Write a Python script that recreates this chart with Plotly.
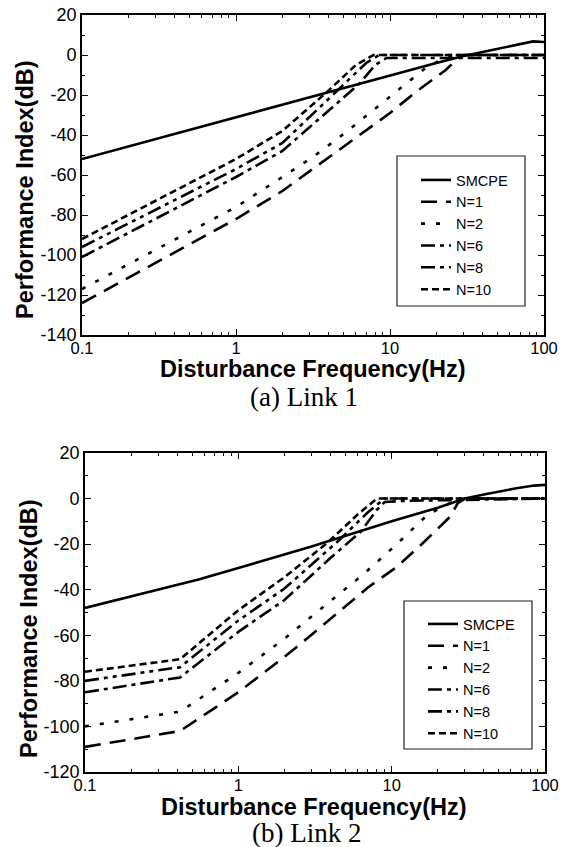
import plotly.graph_objects as go

# ---------------- Data: (a) Link 1 ----------------
a_smcpe_f = [0.1, 0.3, 1, 3, 10, 20, 30, 50, 70, 85, 100]
a_smcpe_v = [-52, -42, -31, -21, -10, -4, -0.5, 3, 5.5, 6.8, 6.5]
a_n1_f = [0.1, 1, 2, 5, 10, 15, 23, 26.5, 30, 100]
a_n1_v = [-124, -82, -68, -46, -29, -18, -7.5, -3, 0, 0]
a_n2_f = [0.1, 1, 2, 3.16, 5.1, 13.5, 17, 22, 28, 100]
a_n2_v = [-117, -76, -61, -51, -39, -13, -6.5, -2, 0, 0]
a_n6_f = [0.1, 1, 2, 4, 6.4, 8, 9.5, 100]
a_n6_v = [-101, -61, -48, -28, -14, -5, -1.5, -1.5]
a_n8_f = [0.1, 1, 2, 4.7, 7, 8.5, 100]
a_n8_v = [-96, -57, -44, -17, -4, 0, 0]
a_n10_f = [0.1, 1, 2, 3.87, 6, 7.8, 100]
a_n10_v = [-92, -52, -38, -18.7, -5, 0, 0]

# ---------------- Data: (b) Link 2 ----------------
b_smcpe_f = [0.1, 0.3, 0.55, 1, 3, 10, 20, 30, 40, 65, 85, 100]
b_smcpe_v = [-48, -40, -35.5, -30.5, -21, -10, -4, 0, 1.8, 4.5, 5.7, 6]
b_n1_f = [0.1, 0.417, 1, 2, 3.1, 4.6, 7, 10.8, 16, 24, 27, 30, 100]
b_n1_v = [-109, -102, -85, -69.5, -59, -49.5, -39, -30, -19.5, -8, -2, 0, 0]
b_n2_f = [0.1, 0.417, 1, 2, 3.1, 6.6, 10.8, 17.2, 24, 30, 100]
b_n2_v = [-100, -93.5, -76.5, -61.5, -51, -33, -20, -7, -2, 0, 0]
b_n6_f = [0.1, 0.417, 1, 2, 4, 6.3, 8, 9, 12, 30, 100]
b_n6_v = [-85, -78.5, -58.5, -44.5, -26, -14.5, -5, -1.5, -1, -0.5, 0]
b_n8_f = [0.1, 0.417, 1, 2, 4.5, 7, 9, 100]
b_n8_v = [-80, -74, -53.5, -39.5, -18.5, -6, 0, 0]
b_n10_f = [0.1, 0.417, 1, 2, 3.8, 6, 8, 100]
b_n10_v = [-76, -70.5, -49, -34.5, -19.5, -7, 0, 0]

names = ["SMCPE", "N=1", "N=2", "N=6", "N=8", "N=10"]
x_tickvals = [0.1, 1, 10, 100]
x_ticktext = ["0.1", "1", "10", "100"]
ya_tickvals = [-140, -120, -100, -80, -60, -40, -20, 0, 20]
ya_ticktext = ["-140", "-120", "-100", "-80", "-60", "-40", "-20", "0", "20"]
yb_tickvals = [-120, -100, -80, -60, -40, -20, 0, 20]
yb_ticktext = ["-120", "-100", "-80", "-60", "-40", "-20", "0", "20"]

dashes = ["solid", "16px,9px", "4px,11px", "14px,5px,4px,5px",
          "14px,5px,4px,5px,4px,5px", "7px,4px"]

W, H = 566, 847
SANS = "Liberation Sans, Arial, sans-serif"
SERIF = "Liberation Serif, Times New Roman, serif"

fig = go.Figure()

series_a = [(a_smcpe_f, a_smcpe_v), (a_n1_f, a_n1_v), (a_n2_f, a_n2_v),
            (a_n6_f, a_n6_v), (a_n8_f, a_n8_v), (a_n10_f, a_n10_v)]
series_b = [(b_smcpe_f, b_smcpe_v), (b_n1_f, b_n1_v), (b_n2_f, b_n2_v),
            (b_n6_f, b_n6_v), (b_n8_f, b_n8_v), (b_n10_f, b_n10_v)]

for (fx, fy), nm, ds in zip(series_a, names, dashes):
    fig.add_trace(go.Scatter(x=fx, y=fy, mode="lines", name=nm,
                             line=dict(color="black", width=2.6, dash=ds),
                             xaxis="x", yaxis="y", legend="legend"))
for (fx, fy), nm, ds in zip(series_b, names, dashes):
    fig.add_trace(go.Scatter(x=fx, y=fy, mode="lines", name=nm,
                             line=dict(color="black", width=2.6, dash=ds),
                             xaxis="x2", yaxis="y2", legend="legend2"))

minor_x = [m * 10 ** e for e in (-1, 0, 1) for m in range(2, 10)]


def xaxis_cfg(domain, anchor):
    return dict(domain=domain, anchor=anchor, type="log", range=[-1, 2],
                automargin=False, ticklabelstandoff=-3,
                tickmode="array", tickvals=x_tickvals, ticktext=x_ticktext,
                ticks="inside", ticklen=6, tickwidth=1.3, tickcolor="black",
                showline=True, linewidth=1.6, linecolor="black", mirror="allticks",
                showgrid=False, zeroline=False,
                tickfont=dict(family=SANS, size=16.5, color="black"),
                minor=dict(tickmode="array", tickvals=minor_x, ticks="inside",
                           ticklen=3.5, tickwidth=1, tickcolor="black", showgrid=False))


def yaxis_cfg(domain, anchor, rng, tv, tt):
    return dict(domain=domain, anchor=anchor, range=rng,
                automargin=False,
                tickmode="array", tickvals=tv, ticktext=tt,
                ticks="inside", ticklen=6, tickwidth=1.3, tickcolor="black",
                showline=True, linewidth=1.6, linecolor="black", mirror="allticks",
                showgrid=False, zeroline=False,
                tickfont=dict(family=SANS, size=18, color="black"),
                minor=dict(tickmode="linear", tick0=0, dtick=10, ticks="inside",
                           ticklen=3.5, tickwidth=1, tickcolor="black", showgrid=False))


def px(x):
    return x / W


def py(y):
    return 1 - y / H


fig.update_layout(
    width=W, height=H,
    margin=dict(l=0, r=0, t=0, b=0, autoexpand=False),
    paper_bgcolor="white", plot_bgcolor="white",
    xaxis=xaxis_cfg([px(82), px(544)], "y"),
    yaxis=yaxis_cfg([py(335), py(15)], "x", [-140, 20], ya_tickvals, ya_ticktext),
    xaxis2=xaxis_cfg([px(85), px(545)], "y2"),
    yaxis2=yaxis_cfg([py(772), py(453)], "x2", [-120, 20], yb_tickvals, yb_ticktext),
    legend=dict(x=px(416), y=py(164), xanchor="left", yanchor="top",
                bgcolor="rgba(0,0,0,0)", borderwidth=0, tracegroupgap=0,
                font=dict(family=SANS, size=14.5, color="black")),
    legend2=dict(x=px(423), y=py(608), xanchor="left", yanchor="top",
                 bgcolor="rgba(0,0,0,0)", borderwidth=0, tracegroupgap=0,
                 font=dict(family=SANS, size=14.5, color="black")),
    shapes=[
        dict(type="rect", xref="paper", yref="paper",
             x0=px(397), x1=px(525), y0=py(306), y1=py(156),
             line=dict(color="#222", width=1.2)),
        dict(type="rect", xref="paper", yref="paper",
             x0=px(404), x1=px(532), y0=py(749), y1=py(601),
             line=dict(color="#222", width=1.2)),
    ],
    annotations=[
        dict(text="<b>Performance Index(dB)</b>", x=px(25), y=py(190),
             xref="paper", yref="paper", textangle=-90, showarrow=False,
             xanchor="center", yanchor="middle",
             font=dict(family=SANS, size=23.5, color="black")),
        dict(text="<b>Performance Index(dB)</b>", x=px(29), y=py(629),
             xref="paper", yref="paper", textangle=-90, showarrow=False,
             xanchor="center", yanchor="middle",
             font=dict(family=SANS, size=23.5, color="black")),
        dict(text="<b>Disturbance Frequency(Hz)</b>", x=px(312.5), y=py(369),
             xref="paper", yref="paper", showarrow=False,
             xanchor="center", yanchor="middle",
             font=dict(family=SANS, size=23.5, color="black")),
        dict(text="<b>Disturbance Frequency(Hz)</b>", x=px(314), y=py(807),
             xref="paper", yref="paper", showarrow=False,
             xanchor="center", yanchor="middle",
             font=dict(family=SANS, size=23.5, color="black")),
        dict(text="(a) Link 1", x=px(304), y=py(397),
             xref="paper", yref="paper", showarrow=False,
             xanchor="center", yanchor="middle",
             font=dict(family=SERIF, size=27, color="black")),
        dict(text="(b) Link 2", x=px(306), y=py(833),
             xref="paper", yref="paper", showarrow=False,
             xanchor="center", yanchor="middle",
             font=dict(family=SERIF, size=27, color="black")),
    ],
)

fig.write_html(
    "out.html",
    config={"displayModeBar": False},
    post_script="document.body.style.margin='0px';document.body.style.overflow='hidden';",
)
